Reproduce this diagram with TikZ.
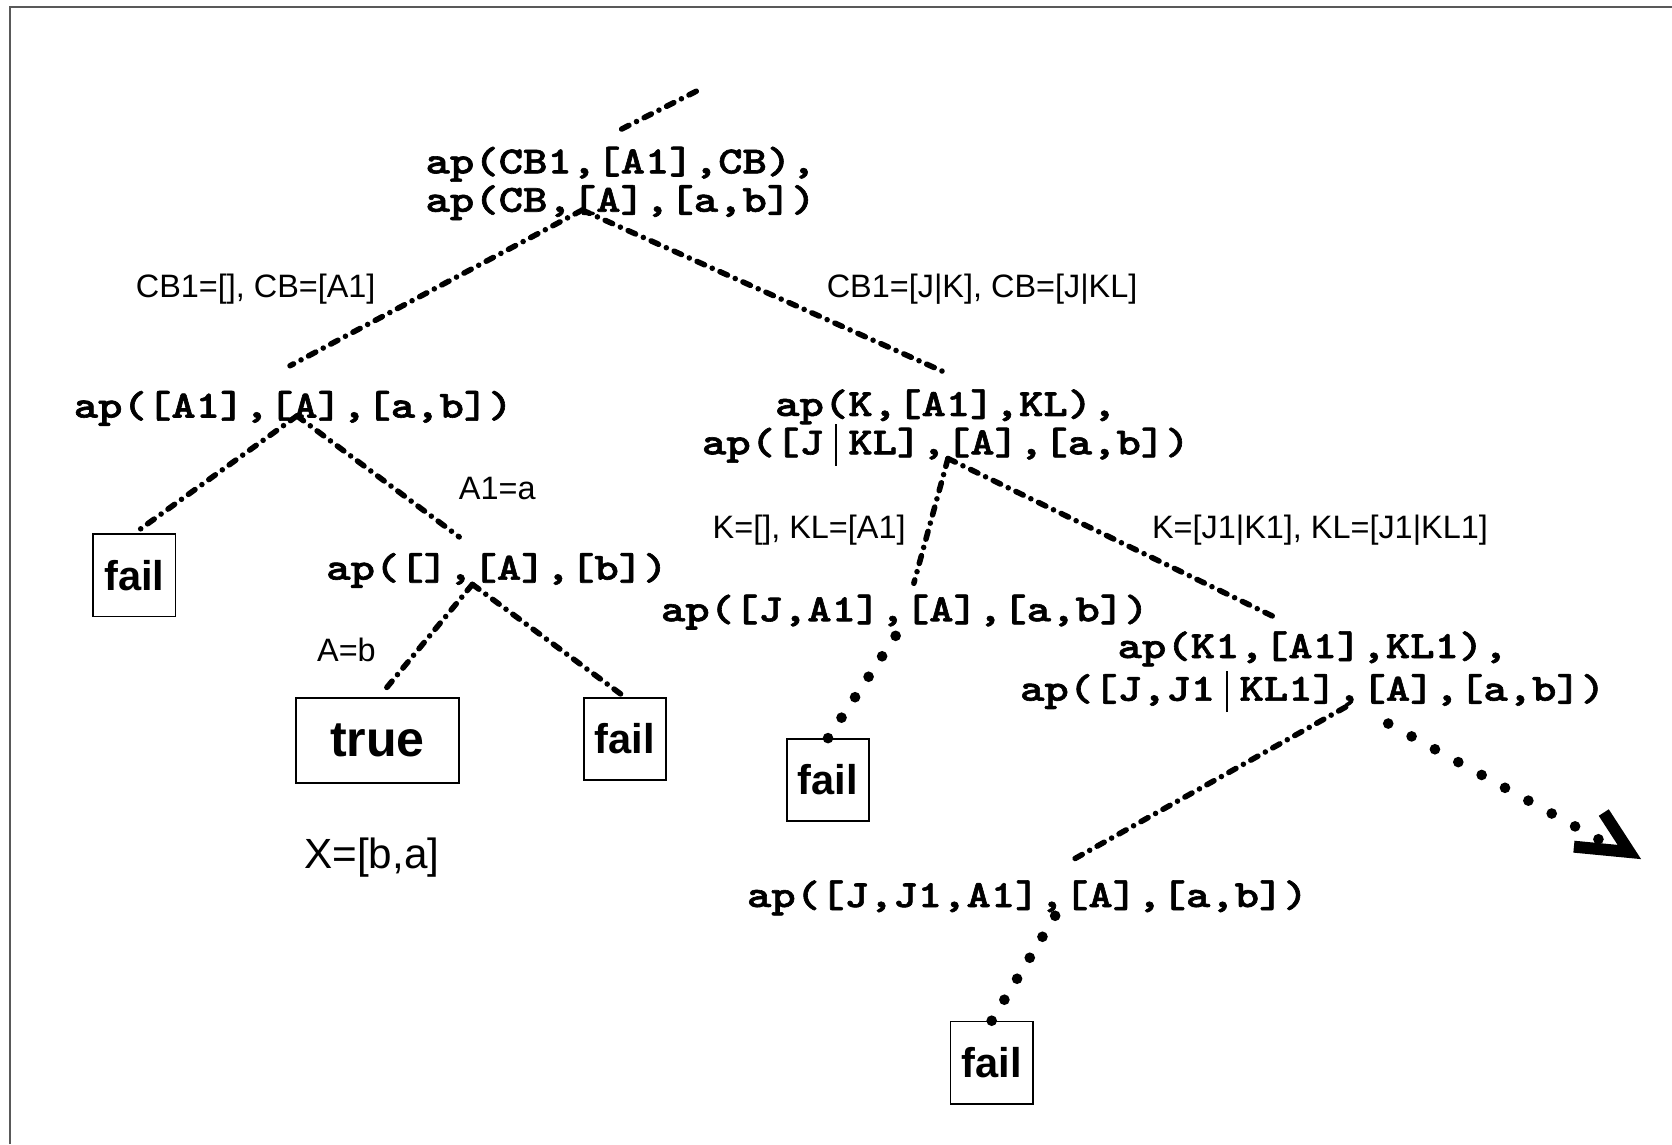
\documentclass[tikz,border=0pt]{standalone}
\usepackage{fontspec}
\setsansfont{Liberation Sans}
% heavy, wide typewriter face for the goals
\newfontfamily\codefont{lmmonolt10-bold.otf}[FakeStretch=1.21, FakeBold=1.6]

\newcommand\cd[1]{{\codefont #1}}
\newcommand\tbar{\makebox[0.635em]{\rule[-0.3em]{0.045em}{1.08em}}}

\tikzset{
  codenode/.style={inner sep=0pt, align=center, font=\fontsize{18}{18}\selectfont},
  lbl/.style={inner sep=0pt, anchor=base west, font=\sffamily\fontsize{15.2}{18}\selectfont},
  leafbox/.style={draw=black, line width=0.8pt, inner sep=0pt,
    minimum width=38.5pt, minimum height=38.5pt,
    font=\sffamily\bfseries\fontsize{19.5}{22}\selectfont},
  dashdotline/.style={line width=2.6pt, line cap=round,
    dash pattern=on 3.8pt off 4pt on 0pt off 4pt},
  dotline/.style={line width=5pt, line cap=round, dash pattern=on 0pt off 11.5pt},
}

\begin{document}
\begin{tikzpicture}[x=0.5pt,y=-0.5pt]
\useasboundingbox (0,0) rectangle (1568,1073);
% frame edges
\draw[line width=1pt, draw=black!65] (9.5,1073) -- (9.5,6.5) -- (1568,6.5);

% goals
\node[codenode] (root) at (582,172) {\cd{ap(CB1,[A1],CB),}\\\cd{ap(CB,[A],[a,b])}};
\node[codenode] (n1) at (275,383) {\cd{ap([A1],[A],[a,b])}};
\node[codenode] (n2) at (887,401) {\cd{ap(K,[A1],KL),}\\\cd{ap([J\tbar KL],[A],[a,b])}};
\node[codenode] (n3) at (466,535) {\cd{ap([],[A],[b])}};
\node[codenode] (n4) at (848.5,574) {\cd{ap([J,A1],[A],[a,b])}};
\node[codenode] (n5) at (1231,630) {\cd{ap(K1,[A1],KL1),}\\[2pt]\cd{ap([J,J1\tbar KL1],[A],[a,b])}};
\node[codenode] (n6) at (963.5,842) {\cd{ap([J,J1,A1],[A],[a,b])}};

% leaves
\node[leafbox] (fail1) at (126,539.5) {fail};
\node[leafbox, minimum width=76.5pt, minimum height=39.7pt,
      font=\sffamily\bfseries\fontsize{23.5}{26}\selectfont] (true) at (354,694.3) {true};
\node[leafbox] (fail2) at (586,693) {fail};
\node[leafbox] (fail3) at (776.5,731.5) {fail};
\node[leafbox] (fail4) at (930,996.5) {fail};

% bindings
\node[lbl] (b1) at (127,279) {CB1=[], CB=[A1]};
\node[lbl] (b2) at (775,279) {CB1=[J|K], CB=[J|KL]};
\node[lbl] (b3) at (430,468) {A1=a};
\node[lbl] (b4) at (668,505) {K=[], KL=[A1]};
\node[lbl] (b5) at (1080,505) {K=[J1|K1], KL=[J1|KL1]};
\node[lbl] (b6) at (297,620) {A=b};
\node[lbl, font=\sffamily\fontsize{19.8}{22}\selectfont] (ans) at (285,814) {X=[b,a]};

% branch points and free ends
\coordinate (r-in) at (583,121);
\coordinate (r-up) at (660,82);
\coordinate (r-j) at (546,197);
\coordinate (n1-in) at (272,343);
\coordinate (n2-in) at (888,350);
\coordinate (n1-j) at (278.5,390);
\coordinate (n3-in) at (430.6,503.5);
\coordinate (n3-j) at (443,548);
\coordinate (true-in) at (360,648);
\coordinate (n2-j) at (889,430);
\coordinate (n4-in) at (857,547);
\coordinate (n5-in) at (1198,580);
\coordinate (n4-j) at (852,578);
\coordinate (n5-j) at (1262,663);
\coordinate (n6-in) at (1003,808);
\coordinate (n5-d) at (1290,672);
\coordinate (more) at (1499,787);
\coordinate (n6-j) at (990,858);

% connectors
\draw[dashdotline] (r-in) -- (r-up);
\draw[dashdotline] (r-j) -- (n1-in);
\draw[dashdotline] (r-j) -- (n2-in);
\draw[dashdotline] (n1-j) -- (fail1.north);
\draw[dashdotline] (n1-j) -- (n3-in);
\draw[dashdotline] (n3-j) -- (true-in);
\draw[dashdotline] (n3-j) -- (fail2.north);
\draw[dashdotline] (n2-j) -- (n4-in);
\draw[dashdotline] (n2-j) -- (n5-in);
\draw[dotline] (fail3.north) -- (n4-j);
\draw[dashdotline] (n5-j) -- (n6-in);
\draw[dotline] (fail4.north) -- (n6-j);
\draw[dotline, dash pattern=on 0pt off 12.5pt] (more) -- (n5-d);
% open arrow tip at the end of the dotted branch
\draw[line width=5.6pt, line join=miter] (1504,762) -- (1528,799) -- (1476,794);
\end{tikzpicture}
\end{document}
